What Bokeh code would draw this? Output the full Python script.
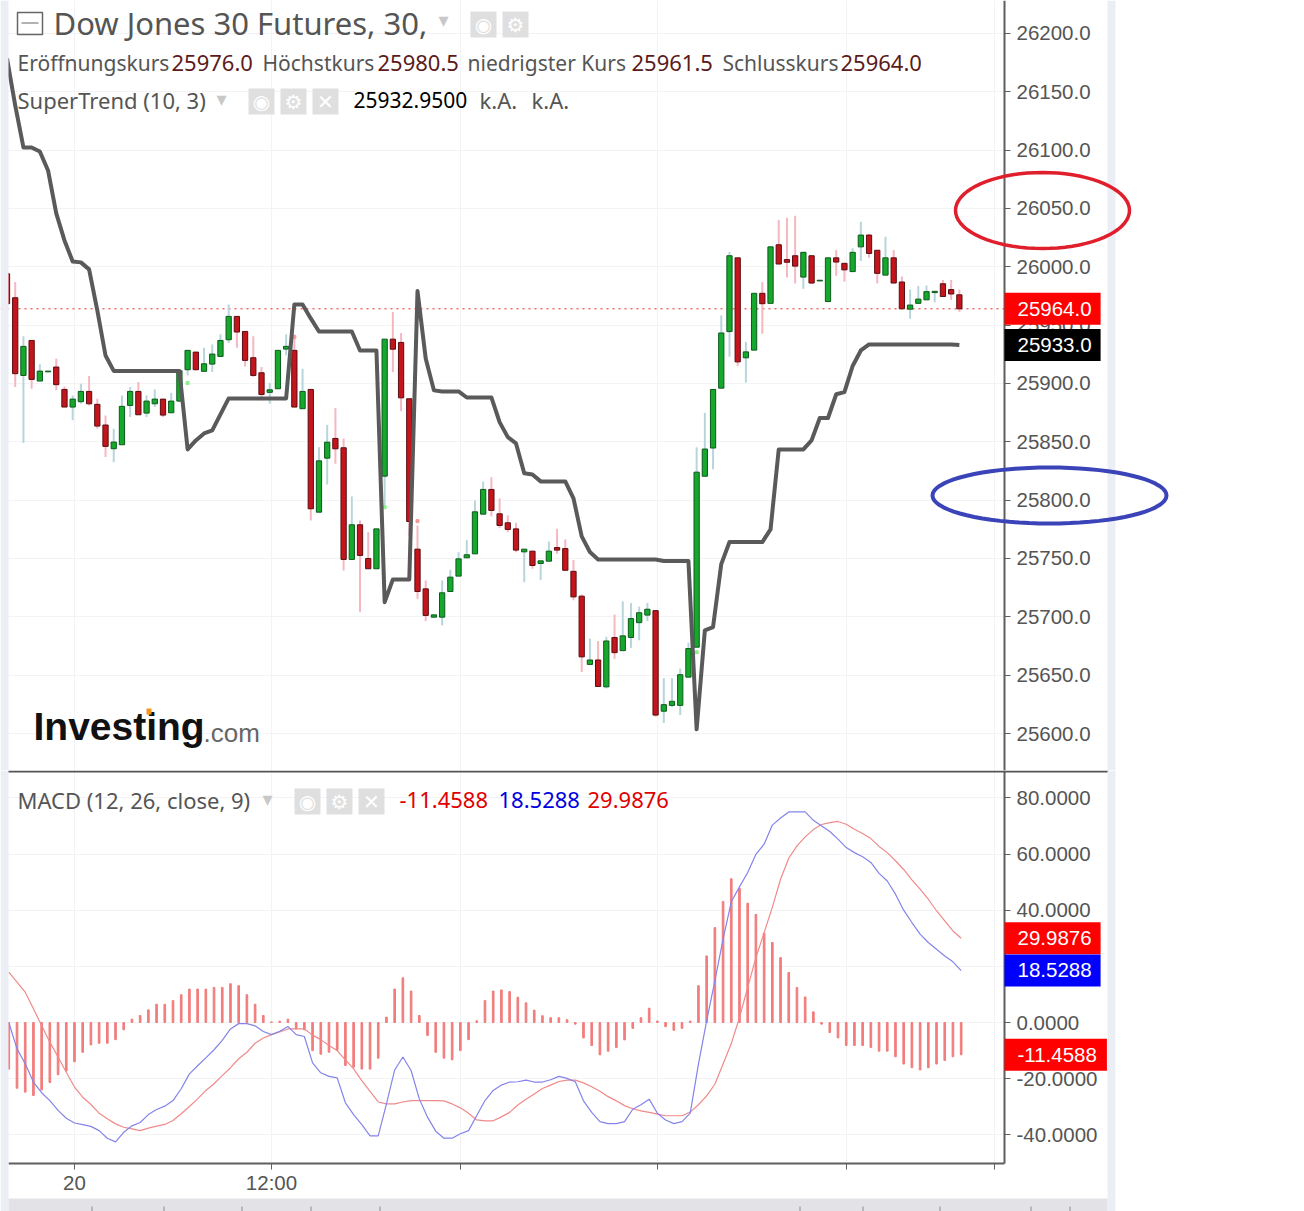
import math
from bokeh.plotting import figure
from bokeh.layouts import column
from bokeh.models import (Range1d, FixedTicker, NumeralTickFormatter, Label, BoxAnnotation,
                          PolyAnnotation, Span, LinearAxis)
from bokeh.embed import file_html
from bokeh.resources import INLINE

# ---- data ----
opens = [25994.0,25973.5,25906.9,25936.9,25902.1,25910.0,25914.1,25894.9,25879.8,25884.4,
25893.2,25882.1,25864.4,25844.1,25847.5,25881.2,25893.2,25874.6,25882.6,25886.6,
25874.9,25884.9,25911.8,25926.9,25910.4,25916.6,25923.2,25937.5,25957.5,25944.6,
25922.1,25909.2,25892.4,25895.5,25929.5,25928.4,25878.4,25894.9,25789.7,25836.0,
25852.9,25844.9,25749.2,25778.9,25750.0,25741.2,25820.6,25938.0,25935.2,25886.9,
25758.0,25724.0,25699.7,25699.7,25721.7,25734.9,25750.6,25754.0,25788.0,25809.2,
25788.3,25780.6,25775.4,25755.7,25756.3,25745.7,25747.7,25759.4,25758.5,25739.0,
25717.7,25659.2,25663.0,25640.0,25682.3,25671.0,25682.3,25695.0,25701.5,25705.3,
25619.1,25624.1,25624.1,25648.3,25674.0,25820.5,25844.7,25896.0,25944.5,26007.7,
25922.0,25928.6,25977.3,25968.7,26018.9,26006.2,26009.5,25991.2,26009.5,25987.9,
25970.2,26007.7,26003.0,25995.9,26017.1,26027.2,26014.2,25992.9,26007.7,25987.0,
25963.7,25968.7,25971.7,25977.9,25985.5,25980.5,25976.0]
highs = [25998.0,25986.9,25940.4,25936.9,25916.4,25910.6,25921.2,25897.5,25889.8,25899.8,
25906.4,25886.9,25872.6,25861.2,25889.8,25897.0,25901.2,25889.8,25894.9,25886.6,
25891.8,25910.9,25928.4,25926.9,25930.6,25933.5,25942.1,25967.8,25957.5,25944.6,
25940.4,25914.1,25900.4,25928.4,25942.1,25942.1,25912.6,25894.9,25845.4,25864.6,
25878.9,25852.9,25803.2,25782.6,25772.6,25775.4,25938.0,25961.2,25943.2,25886.9,
25778.3,25731.2,25701.7,25731.2,25740.3,25755.4,25766.0,25799.7,25816.0,25819.7,
25801.5,25786.9,25780.6,25758.0,25756.3,25748.0,25764.6,25775.4,25766.4,25748.7,
25719.2,25681.4,25679.3,25682.9,25702.0,25713.3,25711.8,25708.8,25711.8,25705.9,
25647.4,25647.4,25655.7,25677.8,25845.3,25874.8,25894.9,25958.4,26013.0,26007.7,
25935.6,25977.3,25987.0,26017.1,26040.2,26042.0,26043.7,26013.0,26009.5,25988.5,
26007.7,26014.5,26003.0,26016.0,26038.7,26028.4,26014.2,26025.7,26014.5,25991.7,
25980.5,25983.5,25984.0,25979.0,25988.8,25988.8,25980.5]
lows = [25965.0,25896.9,25848.9,25895.5,25902.1,25910.0,25894.1,25879.8,25868.4,25882.6,
25881.2,25861.2,25836.9,25832.6,25847.5,25871.2,25873.2,25871.2,25879.8,25871.2,
25874.9,25884.0,25906.9,25911.2,25910.4,25909.8,25923.2,25934.6,25930.6,25914.6,
25905.5,25885.5,25882.6,25895.5,25924.1,25879.8,25878.4,25782.6,25789.7,25813.4,
25831.2,25739.7,25749.2,25704.0,25741.2,25741.2,25794.0,25909.7,25876.3,25769.7,
25715.4,25696.3,25699.7,25692.6,25721.7,25734.9,25750.6,25754.0,25788.0,25786.0,
25776.0,25772.6,25755.4,25729.7,25741.2,25731.7,25747.7,25754.0,25739.9,25714.2,
25652.7,25659.2,25640.3,25638.6,25664.0,25671.0,25673.4,25679.9,25696.4,25614.3,
25609.0,25622.6,25615.8,25648.3,25674.0,25820.5,25826.4,25896.0,25922.9,25915.0,
25900.8,25928.6,25942.7,25968.7,26002.4,25990.9,25985.8,25981.1,25985.5,25987.9,
25970.2,25992.3,25987.3,25995.9,26005.0,26007.7,25985.8,25992.9,25986.1,25964.0,
25955.4,25968.7,25971.7,25969.6,25974.6,25971.7,25961.5]
closes = [25968.4,25908.4,25931.8,25903.5,25910.6,25910.6,25899.0,25879.8,25886.6,25893.2,
25882.6,25863.5,25846.1,25849.8,25880.4,25893.2,25873.2,25884.9,25886.6,25872.9,
25884.9,25910.9,25928.4,25911.8,25916.9,25925.2,25936.9,25957.5,25944.1,25919.8,
25906.9,25890.6,25894.6,25928.4,25931.8,25879.8,25893.2,25792.6,25833.7,25849.7,
25844.0,25749.2,25778.9,25752.6,25741.2,25775.4,25938.0,25929.4,25887.7,25781.7,
25721.7,25701.2,25701.7,25720.6,25734.0,25749.7,25753.2,25790.0,25809.2,25791.2,
25778.3,25774.9,25757.2,25758.0,25744.0,25748.0,25756.3,25757.2,25739.9,25717.1,
25665.7,25663.0,25640.3,25679.3,25669.3,25683.7,25698.5,25703.5,25706.5,25615.8,
25624.7,25627.6,25650.4,25672.8,25824.0,25843.8,25894.9,25943.3,26009.5,25918.5,
25927.1,25977.3,25968.4,26017.1,26002.4,26003.9,26000.6,26012.4,25986.1,25988.5,
26007.7,26004.1,25997.4,26012.4,26027.2,26011.5,25994.4,26007.7,25986.1,25964.0,
25967.2,25972.3,25978.7,25979.0,25974.6,25976.7,25964.0]
supertrend = [26178.6,26138.3,26102.3,26102.3,26098.9,26082.6,26045.8,26022.6,26004.6,26003.8,
25997.8,25962.6,25924.0,25910.8,25910.8,25910.8,25910.8,25910.8,25910.8,25910.8,
25910.8,25910.8,25843.5,25851.2,25857.2,25859.8,25873.5,25887.2,25887.2,25887.2,
25887.2,25887.2,25887.2,25887.2,25887.2,25967.8,25967.8,25955.8,25944.6,25944.6,
25944.6,25944.6,25944.6,25928.3,25928.3,25928.3,25712.6,25732.1,25732.1,25732.1,
25979.2,25921.5,25894.1,25893.2,25893.2,25893.2,25888.0,25888.0,25888.0,25888.0,
25866.9,25854.0,25848.6,25823.0,25822.0,25816.1,25816.1,25816.1,25816.1,25801.5,
25769.0,25755.6,25749.2,25749.2,25749.2,25749.2,25749.2,25749.2,25749.2,25749.2,
25747.9,25747.9,25747.9,25747.9,25603.6,25688.4,25691.2,25745.2,25764.1,25764.1,
25764.1,25764.1,25764.1,25774.9,25843.5,25843.5,25843.5,25843.5,25851.2,25870.4,
25870.4,25890.8,25892.6,25915.0,25928.3,25933.5,25933.5,25933.5,25933.5,25933.5,
25933.5,25933.5,25933.5,25933.5,25933.5,25933.5,25933.0]
histogram = [-16.6,-23.4,-24.8,-26.0,-24.0,-21.4,-18.6,-17.3,-14.0,-10.6,
-8.0,-7.4,-7.4,-6.1,-2.6,1.2,2.5,4.5,6.5,6.5,
7.8,9.9,11.9,11.9,11.9,12.5,12.5,13.8,13.1,9.9,
6.5,2.5,0.2,0.5,1.2,-2.3,-2.6,-10.0,-11.3,-10.6,
-10.0,-15.3,-15.9,-16.6,-16.6,-12.7,1.9,11.9,15.9,11.2,
2.5,-4.6,-10.6,-12.7,-13.3,-10.0,-6.1,0.6,7.8,11.2,
11.6,11.0,9.0,7.0,4.4,2.4,1.7,1.7,1.0,-0.6,
-5.5,-8.2,-11.5,-10.2,-8.9,-6.2,-2.1,1.7,5.1,0.5,
-1.5,-2.8,-2.1,0.5,13.1,23.7,33.8,43.1,51.2,47.8,
42.5,38.5,31.8,28.5,23.1,17.8,12.5,9.1,3.8,-0.6,
-3.6,-5.5,-8.2,-8.2,-8.2,-8.9,-10.2,-10.2,-12.2,-14.8,
-16.1,-16.9,-16.1,-14.8,-13.5,-12.2,-11.5]
macd_line = [0.0,-9.4,-14.7,-21.2,-25.0,-27.8,-31.3,-34.1,-35.8,-36.4,
-37.0,-38.5,-41.2,-42.5,-39.1,-36.8,-35.6,-32.8,-31.0,-29.8,
-27.8,-23.6,-18.3,-15.4,-12.6,-9.7,-6.4,-2.3,-0.4,-0.4,
-1.2,-3.2,-4.3,-3.1,-1.4,-4.3,-5.0,-14.4,-17.9,-19.2,
-19.7,-28.6,-32.8,-36.4,-40.4,-40.4,-29.0,-16.9,-12.3,-17.1,
-27.2,-33.7,-38.7,-41.2,-41.2,-39.6,-38.5,-33.1,-27.8,-24.2,
-22.3,-21.2,-21.1,-20.5,-21.2,-21.2,-20.4,-19.2,-19.9,-21.1,
-27.9,-32.0,-35.3,-36.0,-36.0,-35.3,-30.9,-29.3,-27.3,-32.3,
-34.7,-36.0,-35.3,-32.3,-14.8,0.6,14.8,29.7,43.0,48.3,
53.4,59.9,63.5,70.3,72.8,75.0,75.0,75.0,72.0,70.0,
68.0,65.3,62.3,60.5,59.0,57.0,53.1,50.4,45.7,40.0,
35.6,31.5,28.5,26.1,23.7,21.6,18.5]
signal_line = [17.9,14.4,10.8,4.9,-1.1,-7.0,-12.3,-17.7,-23.0,-26.6,
-29.2,-32.3,-34.3,-36.1,-37.3,-37.9,-38.5,-37.6,-36.9,-36.3,
-34.9,-32.5,-29.9,-27.2,-24.2,-21.8,-18.9,-16.1,-12.9,-10.6,
-7.4,-5.5,-4.3,-3.4,-2.3,-2.3,-2.3,-4.5,-6.1,-8.2,
-10.0,-13.3,-16.5,-20.7,-24.5,-28.3,-29.0,-29.0,-28.3,-27.8,
-27.8,-27.8,-27.8,-27.9,-29.0,-30.4,-32.3,-34.7,-35.0,-35.0,
-33.6,-32.0,-29.4,-27.3,-25.5,-23.5,-22.3,-21.0,-20.5,-20.5,
-21.5,-22.9,-24.5,-26.4,-27.9,-29.6,-30.7,-31.5,-32.0,-32.6,
-33.2,-33.2,-33.2,-31.9,-29.3,-26.1,-22.0,-14.8,-7.5,1.8,
12.5,23.1,32.0,41.0,51.0,58.5,62.9,66.1,68.7,70.5,
71.2,71.6,70.6,68.8,67.3,65.5,62.7,60.5,57.6,54.5,
50.8,47.5,43.9,39.8,36.2,32.6,30.0]
marker_bars_up = [22, 46, 84]
marker_vals_up = [25900.4, 25794.0, 25669.6]
marker_bars_dn = [35, 50]
marker_vals_dn = [25939.8, 25782.0]
price_ticks = [25600,25650,25700,25750,25800,25850,25900,25950,26000,26050,26100,26150,26200]
macd_ticks = [-40,-20,0,20,40,60,80]
time_ticks = [8,32,55,79,102,120]
time_labels = {8:"20",32:"12:00",55:" ",79:" ",102:" ",120:" "}
last_price, st_last = 25964.0, 25933.0
last_hist, last_macd, last_signal = -11.4588, 18.5288, 29.9876

n = len(opens)
for arr in (highs, lows, closes, supertrend, histogram, macd_line, signal_line):
    assert len(arr) == n, len(arr)
bars = list(range(n))

GRID = "#f3f3f6"; TXT = "#555555"; AXIS = "#5f5f5f"; STRIP = "#eceef5"
UI = "Noto Sans"; NUM = "Liberation Sans"; SYM = "DejaVu Sans"
STEP = 8.21
FW = 1210          # frame runs past the axis so overlays are not clipped
TOP_B, BOT_B, AX_B, AX_R = 770, 1211, 1163, 1004

def mk(h, x_origin, yr, ticks, fmt, axis_bounds):
    x0 = -x_origin / STEP
    p = figure(frame_width=FW, frame_height=h, output_backend="svg", toolbar_location=None,
               x_range=Range1d(x0, x0 + FW / STEP), y_range=Range1d(*yr),
               x_axis_location=None, y_axis_location="right",
               min_border_left=0, min_border_right=0, min_border_top=0, min_border_bottom=0,
               background_fill_color="white", outline_line_color=None)
    ax = p.yaxis[0]
    ax.fixed_location = (AX_R - x_origin) / STEP
    ax.bounds = axis_bounds
    ax.ticker = FixedTicker(ticks=ticks)
    ax.formatter = NumeralTickFormatter(format=fmt)
    ax.major_label_text_font = NUM; ax.major_label_text_font_size = "20.5px"
    ax.major_label_text_color = TXT; ax.axis_line_color = AXIS; ax.axis_line_width = 2
    ax.major_tick_line_color = AXIS; ax.major_tick_out = 6; ax.major_tick_in = 0
    ax.minor_tick_line_color = None; ax.major_label_standoff = 6
    p.ygrid[0].ticker = FixedTicker(ticks=ticks); p.ygrid[0].grid_line_color = GRID
    p.xgrid[0].grid_line_color = GRID
    return p

def txt(p, b, x, y, s, size, color=TXT, font=UI, style="normal", align="left"):
    p.add_layout(Label(x=x, y=b - y, x_units="screen", y_units="screen", text=s,
                       text_font=font, text_font_size=f"{size}px", text_color=color,
                       text_font_style=style, text_baseline="middle", text_align=align))

def box(p, b, x0, x1, y0, y1, fill, line=None, lw=1, level="annotation"):
    p.add_layout(BoxAnnotation(left=x0, right=x1, top=b - y0, bottom=b - y1,
                               left_units="screen", right_units="screen",
                               top_units="screen", bottom_units="screen", level=level,
                               fill_color=fill, fill_alpha=1 if fill else 0,
                               line_color=line, line_width=lw, line_alpha=1 if line else 0))

def tag(p, y, s, color, x1=1100):
    p.add_layout(Label(x=AX_R, y=y, x_units="screen", y_units="data", text=s,
                       text_font=NUM, text_font_size="20.5px", text_color="white",
                       text_baseline="middle", background_fill_color=color,
                       padding=(13, x1 - AX_R - 13 - int(len(s) * 10.6), 9, 9)))

def icons(p, b, xs, y0, y1):
    glyph = ["◉", "⚙", "✕"]
    for k, x in enumerate(xs):
        box(p, b, x, x + 26, y0, y1, "#dfdfdf")
        txt(p, b, x + 13, (y0 + y1) / 2, glyph[k], 20, "white", SYM, "normal", "center")

def ellipse(p, b, cx, cy, rx, ry, color, lw):
    ang = [2 * math.pi * k / 72 for k in range(73)]
    p.add_layout(PolyAnnotation(xs=[cx + rx * math.cos(a) for a in ang],
                                ys=[b - cy + ry * math.sin(a) for a in ang],
                                xs_units="screen", ys_units="screen", fill_alpha=0,
                                line_color=color, line_width=lw, line_alpha=1))

# ---- price pane ----
pv = lambda py: 25600 + (733 - py) / 1.1667
top = mk(TOP_B, 6.5, (pv(TOP_B), pv(0)), price_ticks, "0.0", (pv(TOP_B), pv(0)))
top.xgrid[0].ticker = FixedTicker(ticks=[t + 0.22 for t in time_ticks])

up = [c >= o for o, c in zip(opens, closes)]
wick_col = ["#b9d5dc" if u else "#f5b7c0" for u in up]
body_col = ["#15a82c" if u else "#c4151c" for u in up]
edge_col = ["#0c5a1c" if u else "#5a0d10" for u in up]
box(top, TOP_B, AX_R + 1, FW, 0, TOP_B, "white", level="glyph")
box(top, TOP_B, 1107, 1115, 0, TOP_B, STRIP, level="glyph")
top.segment(bars[1:], lows[1:], bars[1:], highs[1:], color=wick_col[1:], line_width=2)
top.vbar(bars, width=0.64, top=[max(a, b) for a, b in zip(opens, closes)],
         bottom=[min(a, b) for a, b in zip(opens, closes)],
         fill_color=body_col, line_color=edge_col, line_width=1)
top.scatter(marker_bars_up, marker_vals_up, size=3, marker="square", color="#8cf08c")
top.scatter(marker_bars_dn, marker_vals_dn, size=3, marker="square", color="#f59a9a")
top.line(bars, supertrend, color="#5a5a5a", line_width=4, line_join="round")
box(top, TOP_B, 0, 8, 0, TOP_B, STRIP)
top.add_layout(Span(location=last_price, dimension="width", line_color="#ff2020",
                    line_width=1, line_dash="dotted", level="underlay"))
box(top, TOP_B, 17, 42, 12, 34, None, "#666666", 1.5)
box(top, TOP_B, 21, 38, 22, 23, "#666666")
txt(top, TOP_B, 53, 22, "Dow Jones 30 Futures, 30,", 31)
txt(top, TOP_B, 443, 19, "▾", 20, "#c8c8c8", SYM, "normal", "center")
icons(top, TOP_B, [470, 502], 11, 37)
WORD = 21; DIGIT = 22
rows = [(17, "Eröffnungskurs", TXT, WORD), (171, "25976.0", "#5c1a1a", DIGIT),
        (262, "Höchstkurs", TXT, WORD), (377, "25980.5", "#5c1a1a", DIGIT),
        (467, "niedrigster Kurs", TXT, WORD), (631, "25961.5", "#5c1a1a", DIGIT),
        (722, "Schlusskurs", TXT, WORD), (840, "25964.0", "#5c1a1a", DIGIT)]
for x, s, c, sz in rows:
    txt(top, TOP_B, x, 62, s, sz, c)
txt(top, TOP_B, 17, 99, "SuperTrend (10, 3)", 22)
txt(top, TOP_B, 221, 98, "▾", 20, "#c8c8c8", SYM, "normal", "center")
icons(top, TOP_B, [248, 280, 312], 88, 114)
txt(top, TOP_B, 353, 99, "25932.9500", 21, "#000000")
txt(top, TOP_B, 479, 99, "k.A.", 22)
txt(top, TOP_B, 531, 99, "k.A.", 22)
txt(top, TOP_B, 33, 726, "Investing", 39, "#111111", NUM, "bold")
txt(top, TOP_B, 203, 732, ".com", 26, "#666666", NUM)
box(top, TOP_B, 146, 151, 708, 714, "#f7941d")
tag(top, last_price, "25964.0", "#ff0000")
tag(top, st_last, "25933.0", "#000000")
ellipse(top, TOP_B, 1042, 210, 87, 38, "#e01f2d", 3.5)
ellipse(top, TOP_B, 1049, 495, 117, 28, "#3a44b8", 4)

# ---- MACD pane ----
mv = lambda py: (1022 - py) / 2.808
bot = mk(BOT_B - TOP_B, 8.3, (mv(BOT_B), mv(TOP_B)), macd_ticks, "0.0000", (mv(AX_B), mv(TOP_B)))
bot.xgrid[0].ticker = FixedTicker(ticks=time_ticks)
xa = LinearAxis(fixed_location=mv(AX_B), bounds=((8 - 8.3) / STEP, (AX_R - 8.3) / STEP))
xa.ticker = FixedTicker(ticks=time_ticks)
xa.major_label_overrides = time_labels
xa.major_label_text_font = NUM; xa.major_label_text_font_size = "20.5px"
xa.major_label_text_color = TXT; xa.axis_line_color = AXIS; xa.axis_line_width = 2
xa.major_tick_line_color = AXIS; xa.major_tick_out = 6; xa.major_tick_in = 0
xa.minor_tick_line_color = None; xa.major_label_standoff = 1
bot.add_layout(xa, "below")

box(bot, BOT_B, AX_R + 1, FW, TOP_B, BOT_B, "white", level="glyph")
box(bot, BOT_B, 0, AX_R + 1, AX_B + 1, BOT_B, "white", level="glyph")
bot.vbar(bars, width=0.2, top=histogram, bottom=0, color="#f27c7c")
bot.line(bars, signal_line, color="#f08a8a", line_width=1.2)
bot.line(bars, macd_line, color="#8484ea", line_width=1.2)

box(bot, BOT_B, 0, 8, TOP_B, BOT_B, STRIP)
box(bot, BOT_B, 8, 1108, 770, 772, "#555555")
txt(bot, BOT_B, 17, 799, "MACD (12, 26, close, 9)", 22)
txt(bot, BOT_B, 267, 798, "▾", 20, "#c8c8c8", SYM, "normal", "center")
icons(bot, BOT_B, [294, 326, 358], 788, 814)
txt(bot, BOT_B, 399, 799, "-11.4588", 22, "#e00000")
txt(bot, BOT_B, 498, 799, "18.5288", 22, "#0000e0")
txt(bot, BOT_B, 587, 799, "29.9876", 22, "#e00000")
tag(bot, last_signal, "29.9876", "#ff0000")
tag(bot, last_macd, "18.5288", "#0000ff")
tag(bot, last_hist, "-11.4588", "#ff0000", 1111)
box(bot, BOT_B, 8, 1107, 1198, 1211, "#e2e2e7")
for sx in (91, 163, 241, 310, 379, 799, 862, 939, 1030, 1069):
    box(bot, BOT_B, sx, sx + 1, 1206, 1211, "#8c8c8c")
box(bot, BOT_B, 1107, 1115, TOP_B, BOT_B, STRIP)

page = column(top, bot, spacing=0, width=1304, height=1211, styles={"overflow": "hidden"})
open("out.html", "w").write(file_html(page, INLINE))
